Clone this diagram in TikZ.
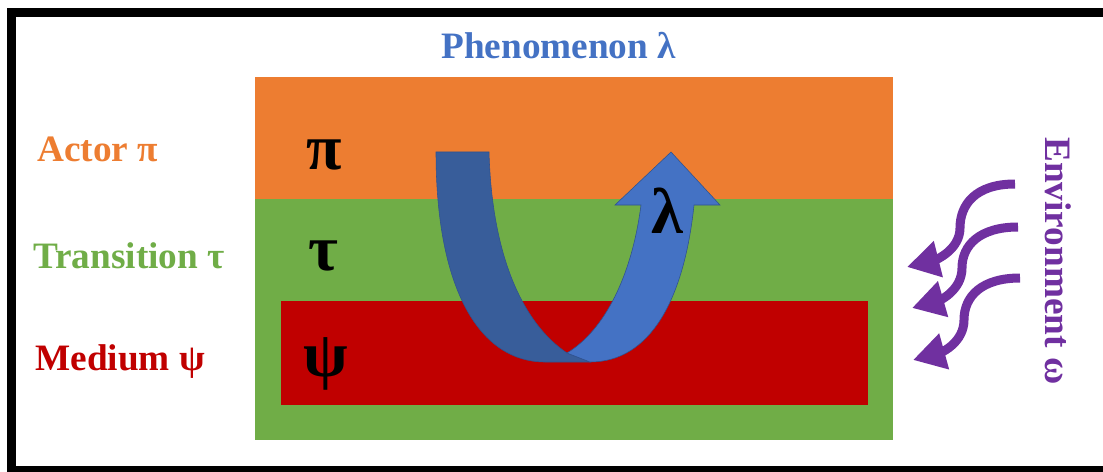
\documentclass[tikz,border=0pt]{standalone}
\usepackage{fontspec}
\setmainfont{Liberation Serif}
\usepackage{xcolor}
\definecolor{actororange}{HTML}{ED7D31}
\definecolor{transgreen}{HTML}{70AD47}
\definecolor{mediumred}{HTML}{C00000}
\definecolor{phenblue}{HTML}{4472C4}
\definecolor{phenshade}{HTML}{385D9A}
\definecolor{phenline}{HTML}{2F528F}
\definecolor{envpurple}{HTML}{7030A0}
\usepackage{tikz}
\usetikzlibrary{arrows.meta}

\begin{document}
\begin{tikzpicture}[
  x=0.025cm, y=-0.025cm,
  label/.style={font=\fontsize{26.5}{30}\selectfont\bfseries, inner sep=0pt},
  sym/.style={font=\fontsize{46}{50}\selectfont\bfseries, inner sep=0pt},
  band/.style={draw=phenline, line width=0.4pt},
  wind/.style={draw=envpurple, line width=6.4pt,
               -{Triangle[length=23pt, width=25pt]}}
]
  \useasboundingbox (0,0) rectangle (1103,472);
  \clip (0,0) rectangle (1103,472);

  % frame
  \draw[line width=6.4pt] (11.5,12.5) rectangle (1112,470.5);

  % layers
  \fill[transgreen]  (255,199) rectangle (893,440);
  \fill[actororange] (255,77)  rectangle (893,199);
  \fill[mediumred]   (281,301) rectangle (868,405);

  % side labels
  \node[label, text=phenblue, anchor=base west]    (phen)   at (441,59)  {Phenomenon λ};
  \node[label, text=actororange, anchor=base west] (actor)  at (37,161)  {Actor π};
  \node[label, text=transgreen, anchor=base west]  (trans)  at (33,268)  {Transition τ};
  \node[label, text=mediumred, anchor=base west]   (medium) at (35,370)  {Medium ψ};
  \node[label, text=envpurple, anchor=base west, rotate=-90] (env) at (1045,137) {Environment ω};

  % layer symbols
  \node[sym, anchor=base] (pisym)  at (324,170) {π};
  \node[sym, anchor=base] (tausym) at (323,270) {τ};
  \node[sym]              (psisym) at (326,364) {ψ};

  % phenomenon arrow
  \filldraw[band, fill=phenshade] (436,152) -- (489,152)
    .. controls (492,260) and (525,325) .. (567,353) -- (590,362) -- (545,362)
    .. controls (480,362) and (436,290) .. cycle;
  \filldraw[band, fill=phenblue] (567,353)
    .. controls (605,330) and (632,275) .. (641,205) -- (615,205) -- (671,152)
    -- (720,205) -- (694,205)
    .. controls (684,300) and (650,362) .. (590,362) -- cycle;
  \node[sym, anchor=base] (lamsym) at (667,233) {λ};

  % environment arrows
  \draw[wind] (1015,184) .. controls (975,184) and (960,205) .. (960,228)
    .. controls (960,250) and (935,260) .. (907,267);
  \draw[wind] (1018,227) .. controls (980,227) and (962,245) .. (962,268)
    .. controls (962,290) and (940,300) .. (912,308);
  \draw[wind] (1020,278) .. controls (982,278) and (964,296) .. (964,320)
    .. controls (964,342) and (942,352) .. (913,360);
\end{tikzpicture}
\end{document}
